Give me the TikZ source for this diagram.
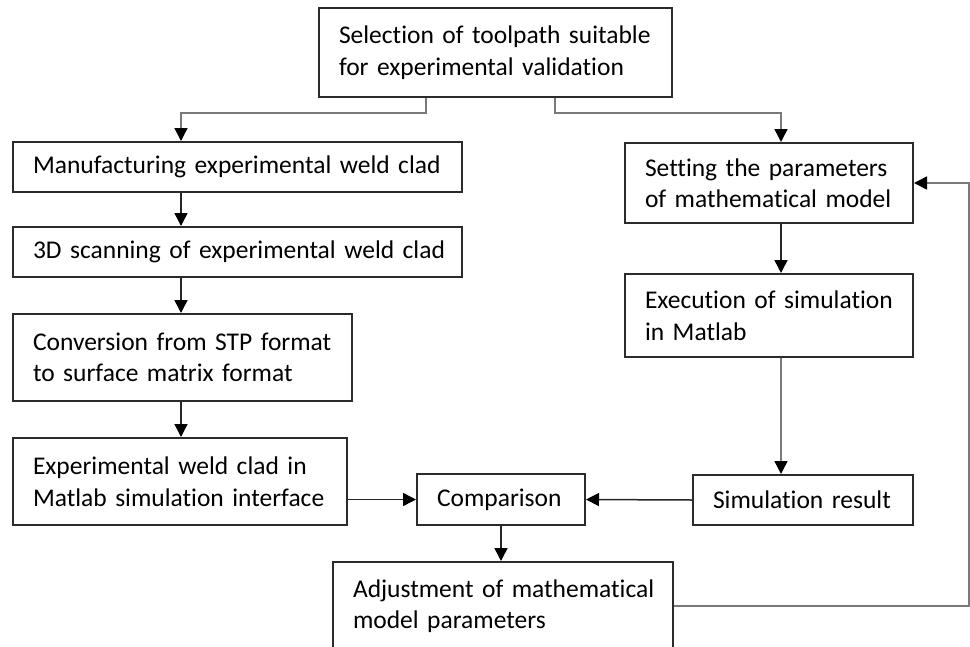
\documentclass[tikz,border=0pt]{standalone}
\usepackage{fontspec}
\setmainfont{Carlito}[Ligatures={NoCommon}]
\usepackage{tikz}
\usetikzlibrary{arrows.meta}
\definecolor{boxline}{HTML}{2B2B2B}
\definecolor{linkgray}{HTML}{7A7A7A}
\tikzstyle{block} = [rectangle,
                     draw=boxline,
                     line width=2pt,
                     align=left,
                     inner xsep=20pt,
                     inner ysep=0pt,
                     text=black,
                     font=\fontsize{25.5}{31.5}\selectfont]
\tikzstyle{arrow} = [line width=1.5pt,
                     draw=black!85,
                     -{Triangle[width=13pt,length=13pt,color=black]}]
\tikzstyle{grayarrow} = [arrow,
                         draw=linkgray]

\begin{document}
\begin{tikzpicture}[x=1pt,y=-1pt]

    \useasboundingbox (0,0) rectangle (970,646);

    \coordinate (lcol) at (181,0);
    \coordinate (rcol) at (781,0);

    \node (sel)  [block, text width=313pt, minimum height=89pt] at (495.5,52.5) {\mbox{Selection of toolpath suitable}\\\mbox{for experimental validation}};
    \node (manu) [block, text width=409pt, minimum height=50pt] at (237.5,167)  {\mbox{Manufacturing experimental weld clad}};
    \node (scan) [block, text width=409pt, minimum height=50pt] at (237.5,252)  {\mbox{3D scanning of experimental weld clad}};
    \node (conv) [block, text width=299pt, minimum height=87pt] at (182.5,357.5) {\mbox{Conversion from STP format}\\\mbox{to surface matrix format}};
    \node (expw) [block, text width=294pt, minimum height=87pt] at (180,481.5)  {\mbox{Experimental weld clad in}\\\mbox{Matlab simulation interface}};
    \node (comp) [block, text width=128pt, minimum height=51pt] at (501,499.5)  {\mbox{Comparison}};
    \node (adj)  [block, text width=300pt, minimum height=88pt] at (503,606)    {\mbox{Adjustment of mathematical}\\\mbox{model parameters}};
    \node (setp) [block, text width=248pt, minimum height=80pt] at (769,183)    {\mbox{Setting the parameters}\\\mbox{of mathematical model}};
    \node (exec) [block, text width=248pt, minimum height=83pt] at (769,315.5)  {\mbox{Execution of simulation}\\\mbox{in Matlab}};
    \node (simr) [block, text width=180pt, minimum height=50pt] at (803,500)    {\mbox{Simulation result}};

    \draw [grayarrow] ([xshift=-69.5pt]sel.south) -- + (0,15) -| (manu.north -| lcol);
    \draw [grayarrow] ([xshift=59.5pt]sel.south)  -- + (0,15) -| (setp.north -| rcol);
    \draw [arrow]     (manu.south -| lcol) -- (scan.north -| lcol);
    \draw [arrow]     (scan.south -| lcol) -- (conv.north -| lcol);
    \draw [arrow]     (conv.south -| lcol) -- (expw.north -| lcol);
    \draw [arrow]     (expw.east |- comp.west) -- (comp.west);
    \draw [arrow]     (simr.west) -- (comp.east);
    \draw [arrow]     (comp.south) -- (adj.north -| comp.south);
    \draw [arrow]     (setp.south -| rcol) -- (exec.north -| rcol);
    \draw [grayarrow] (exec.south -| rcol) -- (simr.north -| rcol);
    \draw [grayarrow] (adj.east) -- + (295,0) |- (setp.east);

\end{tikzpicture}
\end{document}
